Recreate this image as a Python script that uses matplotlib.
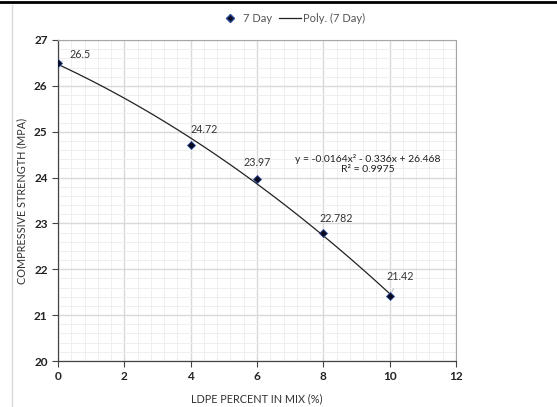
import numpy as np
import matplotlib
matplotlib.use("Agg")
import matplotlib.pyplot as plt
from matplotlib.lines import Line2D
from matplotlib.ticker import MultipleLocator

ldpe_pct = [0, 4, 6, 8, 10]
strength_7day = [26.5, 24.72, 23.97, 22.782, 21.42]
point_labels = ["26.5", "24.72", "23.97", "22.782", "21.42"]

plt.rcParams["font.family"] = ["Lato", "DejaVu Sans"]

fig = plt.figure(figsize=(5.57, 4.07), dpi=100)
ax = fig.add_axes([58 / 557, 1 - 361 / 407, 398 / 557, 321 / 407])

# polynomial trendline (order 2) like the spreadsheet one
coef = np.polyfit(ldpe_pct, strength_7day, 2)
xs = np.linspace(0, 10, 100)
ax.plot(xs, np.polyval(coef, xs), color="#222222", lw=0.9, zorder=3)
ax.plot(ldpe_pct, strength_7day, ls="none", marker="D", ms=4,
        mfc="#0a0a20", mec="#2a4a9a", mew=0.6, zorder=4)

ax.set_xlim(0, 12)
ax.set_ylim(20, 27)
ax.xaxis.set_major_locator(MultipleLocator(2))
ax.xaxis.set_minor_locator(MultipleLocator(0.4))
ax.yaxis.set_major_locator(MultipleLocator(1))
ax.yaxis.set_minor_locator(MultipleLocator(0.2))
ax.grid(which="major", color="#d9d9d9", lw=1.0, zorder=0)
ax.grid(which="minor", color="#efefef", lw=0.7, zorder=0)
ax.set_axisbelow(True)
ax.tick_params(which="major", direction="out", length=4, width=0.8,
               color="#444444", labelsize=8.5, labelcolor="#222222")
ax.tick_params(which="minor", length=0)
for lab in ax.get_xticklabels() + ax.get_yticklabels():
    lab.set_fontweight("bold")
for s in ["top", "right"]:
    ax.spines[s].set_color("#a6a6a6")
    ax.spines[s].set_linewidth(0.8)
for s in ["left", "bottom"]:
    ax.spines[s].set_color("#444444")
    ax.spines[s].set_linewidth(0.9)

ax.set_xlabel("LDPE PERCENT IN MIX (%)", fontsize=7.8, color="#333333", labelpad=8)
ax.set_ylabel("COMPRESSIVE STRENGTH (MPA)", fontsize=7.8, color="#333333")
ax.yaxis.set_label_coords(-31 / 398, 0.5)

# data labels: text position and whether a leader line is drawn
label_pos = [(0.65, 26.68), (4.42, 25.04), (6.01, 24.32), (8.38, 23.1), (10.31, 21.84)]
leader = [True, True, False, False, True]
for x, y, t, (tx, ty), ld in zip(ldpe_pct, strength_7day, point_labels, label_pos, leader):
    ax.annotate(t, xy=(x, y), xytext=(tx, ty), fontsize=7.7, color="#333333",
                ha="center", va="center",
                arrowprops=dict(arrowstyle="-", color="#bfbfbf", lw=0.7,
                                shrinkA=3, shrinkB=3) if ld else None)

ax.text(9.33, 24.29, "y = -0.0164x² - 0.336x + 26.468\nR² = 0.9975",
        fontsize=7.5, color="#222222", ha="center", va="center", linespacing=1.15)

handles = [Line2D([], [], ls="none", marker="D", ms=4, mfc="#0a0a20", mec="#2a4a9a"),
           Line2D([], [], color="#222222", lw=0.9)]
fig.legend(handles, ["7 Day", "Poly. (7 Day)"], loc="center", bbox_to_anchor=(292 / 557, 1 - 18 / 407),
           ncol=2, frameon=False, fontsize=8, handlelength=2.0, columnspacing=0.6,
           handletextpad=0.2, labelcolor="#555555")

# page borders
fig.add_artist(Line2D([0, 1], [1 - 1.5 / 407] * 2, color="black", lw=2))
fig.add_artist(Line2D([12 / 557] * 2, [0, 1 - 5 / 407], color="#d9d9d9", lw=1))

fig.savefig("out.png", dpi=100)
